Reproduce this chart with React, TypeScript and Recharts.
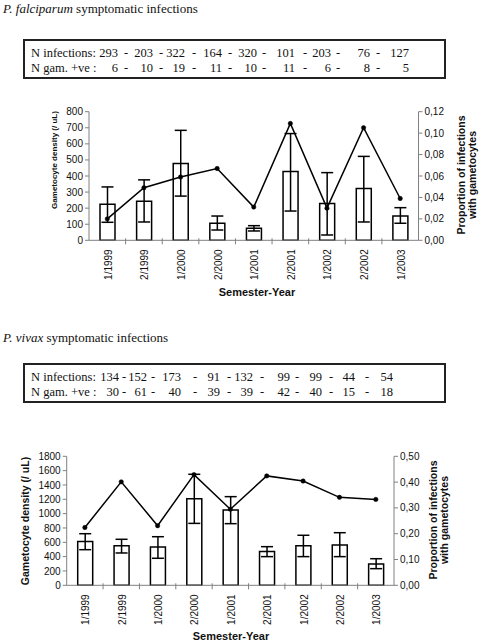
import { ComposedChart, Bar, Line, XAxis, YAxis, ErrorBar, Label } from 'recharts'

const semesters = ['1/1999', '2/1999', '1/2000', '2/2000', '1/2001', '2/2001', '1/2002', '2/2002', '1/2003']

// P. falciparum
const pfInfections = [293, 203, 322, 164, 320, 101, 203, 76, 127]
const pfGamPositive = [6, 10, 19, 11, 10, 11, 6, 8, 5]
const pfDensity = [225, 243, 478, 106, 75, 428, 229, 322, 151]
const pfDensityLow = [112, 114, 275, 64, 58, 182, 33, 114, 106]
const pfDensityHigh = [332, 376, 684, 151, 91, 664, 421, 522, 203]
const pfProportion = [0.02, 0.049, 0.059, 0.067, 0.031, 0.109, 0.03, 0.105, 0.039]
const pfDensityTicks = [0, 100, 200, 300, 400, 500, 600, 700, 800]
const pfPropTicks = [0, 0.02, 0.04, 0.06, 0.08, 0.1, 0.12]

// P. vivax
const pvInfections = [134, 152, 173, 91, 132, 99, 99, 44, 54]
const pvGamPositive = [30, 61, 40, 39, 39, 42, 40, 15, 18]
const pvDensity = [612, 553, 534, 1208, 1050, 473, 553, 561, 297]
const pvDensityLow = [497, 451, 377, 864, 860, 400, 400, 400, 232]
const pvDensityHigh = [720, 642, 678, 1549, 1237, 539, 698, 734, 371]
const pvProportion = [0.224, 0.401, 0.231, 0.429, 0.295, 0.424, 0.404, 0.341, 0.333]
const pvDensityTicks = [0, 200, 400, 600, 800, 1000, 1200, 1400, 1600, 1800]
const pvPropTicks = [0, 0.1, 0.2, 0.3, 0.4, 0.5]

const buildRows = (dens: number[], low: number[], high: number[], prop: number[]) =>
  semesters.map((s, i) => ({
    semester: s,
    density: dens[i],
    err: [dens[i] - low[i], high[i] - dens[i]],
    proportion: prop[i],
  }))

const AXIS = '#808080'
const SANS = '"Liberation Sans", Arial, sans-serif'
const SERIF = '"Liberation Serif", "Times New Roman", serif'

function SemesterTick(props: any) {
  const { x, y, payload, index, band, count } = props
  const tx = x + 1
  const ty = y + 9
  return (
    <g>
      {index < count - 1 && (
        <line x1={x + band / 2} x2={x + band / 2} y1={y - 2} y2={y + 4} stroke={AXIS} />
      )}
      <text
        x={tx}
        y={ty}
        transform={`rotate(-90, ${tx}, ${ty})`}
        textAnchor="end"
        dominantBaseline="central"
        fontSize={10}
        fontFamily={SANS}
        fill="#111"
      >
        {payload.value}
      </text>
    </g>
  )
}

type PanelProps = {
  rows: ReturnType<typeof buildRows>
  height: number
  plotTop: number
  leftW: number
  rightW: number
  densMax: number
  densTicks: number[]
  propMax: number
  propTicks: number[]
  leftTitle: { x: number; y: number; size: number }
  rightTitle: { x1: number; x2: number; y: number }
  xTitle: { x: number; y: number }
  plotH: number
}

function Panel(p: PanelProps) {
  const W = 485
  const band = (W - p.leftW - p.rightW) / semesters.length
  const xAxisH = p.height - p.plotTop - p.plotH
  return (
    <ComposedChart
      width={W}
      height={p.height}
      data={p.rows}
      margin={{ top: p.plotTop, right: 0, bottom: 0, left: 0 }}
      barCategoryGap={0}
    >
      <XAxis
        dataKey="semester"
        height={xAxisH}
        interval={0}
        axisLine={{ stroke: AXIS }}
        tickLine={false}
        tickSize={0}
        tickMargin={0}
        tick={<SemesterTick band={band} count={semesters.length} />}
      >
        <Label
          content={() => (
            <text
              x={p.xTitle.x}
              y={p.xTitle.y}
              textAnchor="middle"
              dominantBaseline="central"
              fontSize={11}
              fontWeight="bold"
              fontFamily={SANS}
              fill="#111"
            >
              Semester-Year
            </text>
          )}
        />
      </XAxis>
      <YAxis
        yAxisId="dens"
        width={p.leftW}
        domain={[0, p.densMax]}
        ticks={p.densTicks}
        interval={0}
        axisLine={{ stroke: AXIS }}
        tickLine={{ stroke: AXIS }}
        tickSize={4}
        tick={{ fontSize: 10, fontFamily: SANS, fill: '#111' }}
      >
        <Label
          content={() => (
            <text
              x={p.leftTitle.x}
              y={p.leftTitle.y}
              transform={`rotate(-90, ${p.leftTitle.x}, ${p.leftTitle.y})`}
              textAnchor="middle"
              dominantBaseline="central"
              fontSize={p.leftTitle.size}
              fontWeight="bold"
              fontFamily={SANS}
              fill="#111"
            >
              Gametocyte density (/ uL)
            </text>
          )}
        />
      </YAxis>
      <YAxis
        yAxisId="prop"
        orientation="right"
        width={p.rightW}
        domain={[0, p.propMax]}
        ticks={p.propTicks}
        interval={0}
        axisLine={{ stroke: AXIS }}
        tickLine={{ stroke: AXIS }}
        tickSize={4}
        tickFormatter={(v: number) => v.toFixed(2).replace('.', ',')}
        tick={{ fontSize: 10, fontFamily: SANS, fill: '#111' }}
      >
        <Label
          content={() => (
            <g fontSize={10.5} fontWeight="bold" fontFamily={SANS} fill="#111">
              <text
                x={p.rightTitle.x1}
                y={p.rightTitle.y}
                transform={`rotate(-90, ${p.rightTitle.x1}, ${p.rightTitle.y})`}
                textAnchor="middle"
                dominantBaseline="central"
              >
                Proportion of infections
              </text>
              <text
                x={p.rightTitle.x2}
                y={p.rightTitle.y}
                transform={`rotate(-90, ${p.rightTitle.x2}, ${p.rightTitle.y})`}
                textAnchor="middle"
                dominantBaseline="central"
              >
                with gametocytes
              </text>
            </g>
          )}
        />
      </YAxis>
      <Bar
        yAxisId="dens"
        dataKey="density"
        barSize={15}
        fill="#fff"
        stroke="#000"
        strokeWidth={1.5}
        isAnimationActive={false}
      >
        <ErrorBar dataKey="err" width={6} stroke="#000" strokeWidth={1.5} direction="y" />
      </Bar>
      <Line
        yAxisId="prop"
        type="linear"
        dataKey="proportion"
        stroke="#000"
        strokeWidth={1.5}
        dot={{ r: 2.2, fill: '#000', stroke: '#000', strokeWidth: 0.5 }}
        isAnimationActive={false}
      />
    </ComposedChart>
  )
}

function CountBox(props: {
  top: number
  infections: number[]
  positives: number[]
  numRight: number[]
  dashX: number[]
}) {
  // box content origin sits at page x = 25 (left 23 + 2px border)
  const ox = 25
  const rowsText = [
    { label: 'N infections:', values: props.infections, y: 5 },
    { label: 'N gam. +ve :', values: props.positives, y: 20 },
  ]
  return (
    <div
      style={{
        position: 'absolute',
        left: 23,
        top: props.top,
        width: 419,
        height: 36,
        border: '2px solid #222',
        fontFamily: SERIF,
        fontSize: 12.5,
        lineHeight: '15px',
        color: '#111',
      }}
    >
      {rowsText.map((r) => (
        <div key={r.label} style={{ position: 'absolute', left: 0, top: r.y, width: '100%', height: 15 }}>
          <span style={{ position: 'absolute', left: 6, whiteSpace: 'pre' }}>{r.label}</span>
          {r.values.map((v, i) => (
            <span
              key={'v' + i}
              style={{ position: 'absolute', left: props.numRight[i] - ox - 30, width: 30, textAlign: 'right' }}
            >
              {v}
            </span>
          ))}
          {props.dashX.map((dx, i) => (
            <span key={'d' + i} style={{ position: 'absolute', left: dx - ox - 5, width: 10, textAlign: 'center' }}>
              -
            </span>
          ))}
        </div>
      ))}
    </div>
  )
}

export default function App() {
  const pfRows = buildRows(pfDensity, pfDensityLow, pfDensityHigh, pfProportion)
  const pvRows = buildRows(pvDensity, pvDensityLow, pvDensityHigh, pvProportion)

  return (
    <div
      style={{
        position: 'absolute',
        left: 0,
        top: 0,
        width: 485,
        height: 643,
        background: '#fff',
        fontFamily: SERIF,
        overflow: 'hidden',
      }}
    >
      <div style={{ position: 'absolute', left: 3, top: 0, fontSize: 13, lineHeight: '17px', color: '#111' }}>
        <i>P. falciparum</i> symptomatic infections
      </div>
      <CountBox
        top={39}
        infections={pfInfections}
        positives={pfGamPositive}
        numRight={[118, 153, 185, 222, 257, 295, 331, 370, 409]}
        dashX={[126, 161, 194, 230, 264, 305, 338, 378]}
      />
      <div style={{ position: 'absolute', left: 0, top: 100 }}>
        <Panel
          rows={pfRows}
          height={200}
          plotTop={11.7}
          plotH={128.6}
          leftW={89}
          rightW={66.5}
          densMax={800}
          densTicks={pfDensityTicks}
          propMax={0.12}
          propTicks={pfPropTicks}
          leftTitle={{ x: 54.5, y: 60, size: 8 }}
          rightTitle={{ x1: 461, x2: 472, y: 75 }}
          xTitle={{ x: 257, y: 191.7 }}
        />
      </div>

      <div style={{ position: 'absolute', left: 3, top: 329, fontSize: 13, lineHeight: '17px', color: '#111' }}>
        <i>P. vivax</i> symptomatic infections
      </div>
      <CountBox
        top={363}
        infections={pvInfections}
        positives={pvGamPositive}
        numRight={[119, 147, 181, 220, 253, 290, 322, 355, 393]}
        dashX={[124, 153, 195, 229, 262, 297, 331, 367]}
      />
      <div style={{ position: 'absolute', left: 0, top: 440 }}>
        <Panel
          rows={pvRows}
          height={203}
          plotTop={16.3}
          plotH={129}
          leftW={66.7}
          rightW={91}
          densMax={1800}
          densTicks={pvDensityTicks}
          propMax={0.5}
          propTicks={pvPropTicks}
          leftTitle={{ x: 25, y: 81, size: 10.5 }}
          rightTitle={{ x1: 433, x2: 444, y: 80 }}
          xTitle={{ x: 231, y: 196 }}
        />
      </div>
    </div>
  )
}
